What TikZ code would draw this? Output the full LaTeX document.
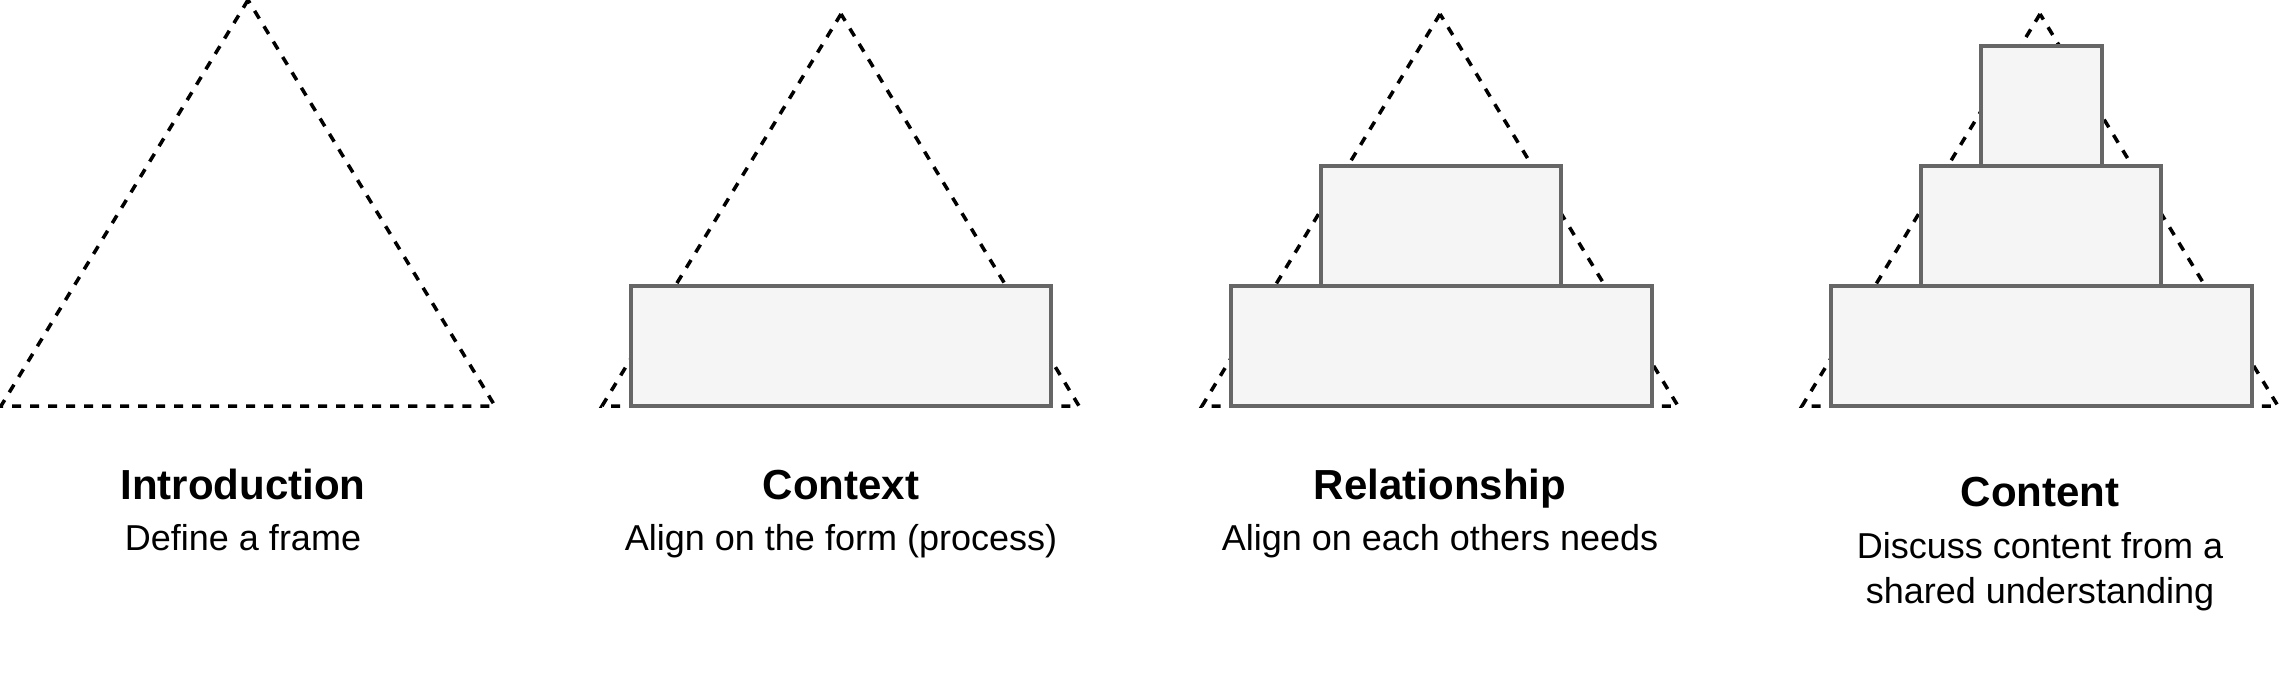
\documentclass[tikz,border=0pt]{standalone}
\usepackage{fontspec}
\setmainfont{Liberation Sans}
\definecolor{blockfill}{HTML}{F5F5F5}
\definecolor{blockline}{HTML}{666666}
\tikzset{
  tridash/.style={line width=1pt, dash pattern=on 0.09cm off 0.09cm},
  block/.style={fill=blockfill, draw=blockline, line width=0.9pt},
  headtext/.style={font=\fontsize{11.95}{14}\selectfont\bfseries, inner sep=0pt, anchor=base},
  subtext/.style={font=\fontsize{10.24}{12.8}\selectfont, inner sep=0pt, anchor=base, align=center}
}
\begin{document}
\begin{tikzpicture}[x=0.01cm, y=-0.01cm]
\useasboundingbox (0,0) rectangle (2283,678);
\coordinate (A1) at (248,0);
\coordinate (B1) at (1,406);
\coordinate (C1) at (495,406);
\coordinate (A2) at (841,14);
\coordinate (B2) at (602,406);
\coordinate (C2) at (1079,406);
\coordinate (A3) at (1440,14);
\coordinate (B3) at (1202,406);
\coordinate (C3) at (1678,406);
\coordinate (A4) at (2040,14);
\coordinate (B4) at (1802,406);
\coordinate (C4) at (2278,406);
\draw[tridash] (A1)--(B1)--(C1)--cycle;
\draw[tridash] (A2)--(B2)--(C2)--cycle;
\draw[tridash] (A3)--(B3)--(C3)--cycle;
\draw[tridash] (A4)--(B4)--(C4)--cycle;
% blocks
\draw[block] (631,286) rectangle (1051,406);
\draw[block] (1231,286) rectangle (1652,406);
\draw[block] (1321,166) rectangle (1561,286);
\draw[block] (1831,286) rectangle (2252,406);
\draw[block] (1921,166) rectangle (2161,286);
\draw[block] (1981,46) rectangle (2102,166);
% labels
\node[headtext] (intro) at (243,499) {Introduction};
\node[subtext] (introsub) at (243,550) {Define a frame};
\node[headtext] (context) at (841,499) {Context};
\node[subtext] (contextsub) at (841,550) {Align on the form (process)};
\node[headtext] (relation) at (1440,499) {Relationship};
\node[subtext] (relationsub) at (1440,550) {Align on each others needs};
\node[headtext] (content) at (2040,506) {Content};
\node[subtext] (contentsub) at (2040,603) {Discuss content from a\\shared understanding};
\end{tikzpicture}
\end{document}
